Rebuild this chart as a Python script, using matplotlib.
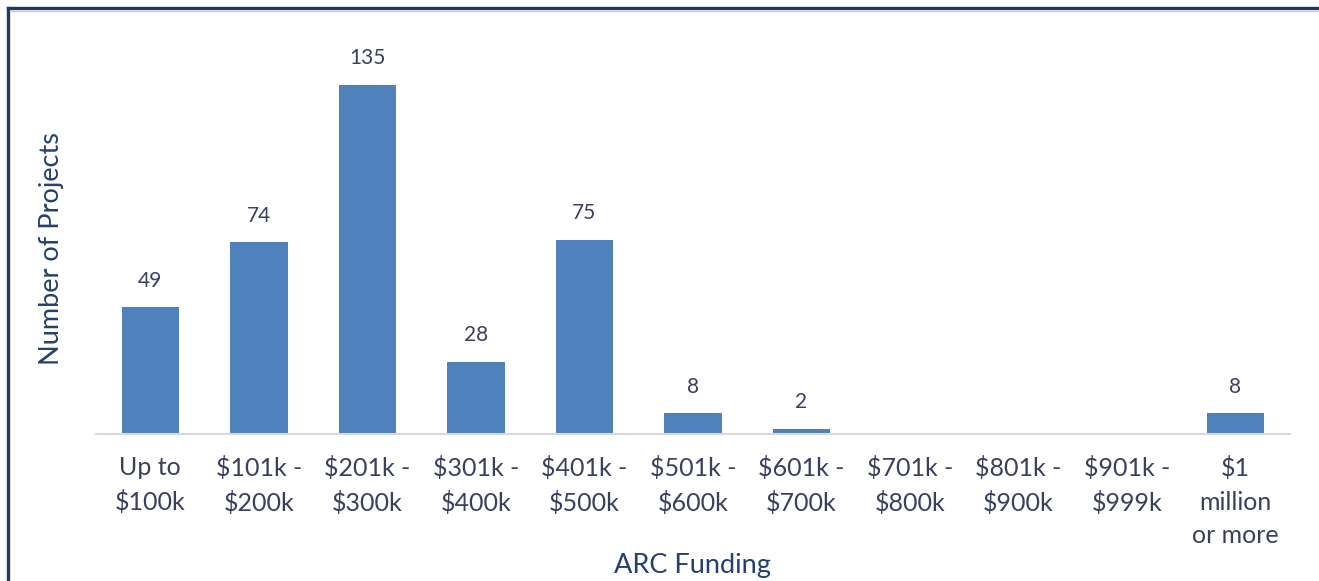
import matplotlib.pyplot as plt
from matplotlib.lines import Line2D

plt.rcParams['font.family'] = ['Lato', 'DejaVu Sans']

# data
categories = ['Up to\n\\$100k', '\\$101k -\n\\$200k', '\\$201k -\n\\$300k', '\\$301k -\n\\$400k',
              '\\$401k -\n\\$500k', '\\$501k -\n\\$600k', '\\$601k -\n\\$700k', '\\$701k -\n\\$800k',
              '\\$801k -\n\\$900k', '\\$901k -\n\\$999k', '\\$1\nmillion\nor more']
projects = [49, 74, 135, 28, 75, 8, 2, 0, 0, 0, 8]

bar_col = '#4F81BD'
txt_col = '#3B3F5E'
title_col = '#24406E'

fig = plt.figure(figsize=(13.19, 5.81), dpi=100)
ax = fig.add_axes([0.0728, 0.253, 0.905, 0.695])

x = range(len(categories))
bars = ax.bar(x, projects, width=0.53, color=bar_col, zorder=2)

for i, v in enumerate(projects):
    if v > 0:
        ax.annotate(str(v), (i, v), xytext=(0, 12), textcoords='offset points',
                    ha='center', va='bottom', fontsize=15, color=txt_col)

ax.set_xlim(-0.5, len(categories) - 0.5)
ax.set_ylim(0, 156)
ax.set_xticks(list(x))
ax.set_xticklabels(categories, fontsize=18, color=txt_col, linespacing=1.55)
ax.tick_params(axis='x', length=0, pad=16)
ax.set_yticks([])

for s in ['top', 'right', 'left']:
    ax.spines[s].set_visible(False)
ax.spines['bottom'].set_color('#D9D9D9')
ax.spines['bottom'].set_linewidth(1.5)

ax.set_ylabel('Number of Projects', fontsize=19.5, color=title_col)
ax.yaxis.set_label_coords(-0.027, 0.46)
ax.set_xlabel('ARC Funding', fontsize=19.5, color=title_col, labelpad=4)

# border around the chart (left and top visible)
fig.add_artist(Line2D([8 / 1319, 8 / 1319], [0, 1 - 8 / 581], transform=fig.transFigure,
                      color='#1F3864', lw=2.4))
fig.add_artist(Line2D([8 / 1319, 1], [1 - 8 / 581, 1 - 8 / 581], transform=fig.transFigure,
                      color='#1F3864', lw=2.4))
fig.add_artist(Line2D([10 / 1319, 1], [1 - 11 / 581, 1 - 11 / 581], transform=fig.transFigure,
                      color='#C5CCE0', lw=1))

fig.savefig('out.png', dpi=100)
